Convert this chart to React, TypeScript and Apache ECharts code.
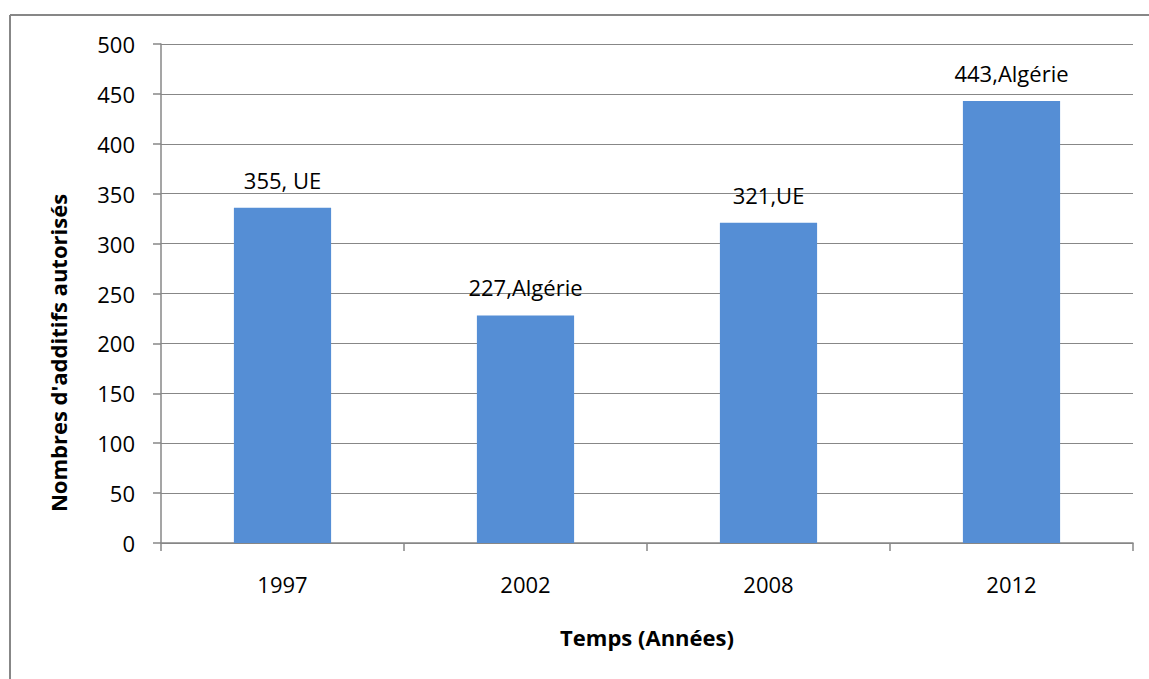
import React, { useEffect, useRef } from "react";
import * as echarts from "echarts";

const categories = ["1997", "2002", "2008", "2012"];
const values = [336, 228, 321, 443];
const labelTexts = ["355, UE", "227,Algérie", "321,UE", "443,Algérie"];
const yTicks = { min: 0, max: 500, interval: 50 };
const xTitle = "Temps (Années)";
const yTitle = "Nombres d'additifs autorisés";

const FONT = "'Open Sans', 'Noto Sans', sans-serif";
const GRAY = "#878787";

export default function App() {
  const ref = useRef<HTMLDivElement>(null);
  useEffect(() => {
    if (!ref.current) return;
    const chart = echarts.init(ref.current, undefined, { renderer: "svg" });
    chart.setOption({
      animation: false,
      backgroundColor: "#ffffff",
      textStyle: { fontFamily: FONT },
      grid: { left: 161, right: 16, top: 44, bottom: 136 },
      graphic: [
        {
          type: "line",
          shape: { x1: 10, y1: 15, x2: 1149, y2: 15 },
          style: { stroke: GRAY, lineWidth: 2 },
        },
        {
          type: "line",
          shape: { x1: 10, y1: 15, x2: 10, y2: 679 },
          style: { stroke: GRAY, lineWidth: 2 },
        },
        {
          type: "text",
          x: 58,
          y: 353,
          rotation: Math.PI / 2,
          style: {
            text: yTitle,
            align: "center",
            verticalAlign: "middle",
            fontFamily: FONT,
            fontWeight: "bold",
            fontSize: 22,
            fill: "#000",
          },
        },
      ],
      xAxis: {
        type: "category",
        data: categories,
        boundaryGap: true,
        name: xTitle,
        nameLocation: "middle",
        nameGap: 83,
        nameTextStyle: { fontFamily: FONT, fontWeight: "bold", fontSize: 22, color: "#000" },
        axisLine: { lineStyle: { color: GRAY, width: 1.5 } },
        axisTick: { show: true, length: 8, alignWithLabel: false, lineStyle: { color: GRAY, width: 1.5 } },
        axisLabel: { fontFamily: FONT, fontSize: 22, color: "#000", margin: 30 },
        splitLine: { show: false },
      },
      yAxis: {
        type: "value",
        min: yTicks.min,
        max: yTicks.max,
        interval: yTicks.interval,
        axisLine: { show: true, lineStyle: { color: GRAY, width: 1.5 } },
        axisTick: { show: true, length: 8, lineStyle: { color: GRAY, width: 1.5 } },
        axisLabel: { fontFamily: FONT, fontSize: 22, color: "#000", margin: 26 },
        splitLine: { show: true, lineStyle: { color: GRAY, width: 1.2 } },
      },
      series: [
        {
          type: "bar",
          data: values,
          barWidth: "40%",
          itemStyle: { color: "#558ED5" },
          label: {
            show: true,
            position: "top",
            distance: 17,
            fontFamily: FONT,
            fontSize: 22,
            color: "#000",
            formatter: (p: any) => labelTexts[p.dataIndex],
          },
        },
      ],
    });
    return () => chart.dispose();
  }, []);
  return (
    <div
      ref={ref}
      style={{ position: "absolute", left: 0, top: 0, width: 1149, height: 679 }}
    />
  );
}
